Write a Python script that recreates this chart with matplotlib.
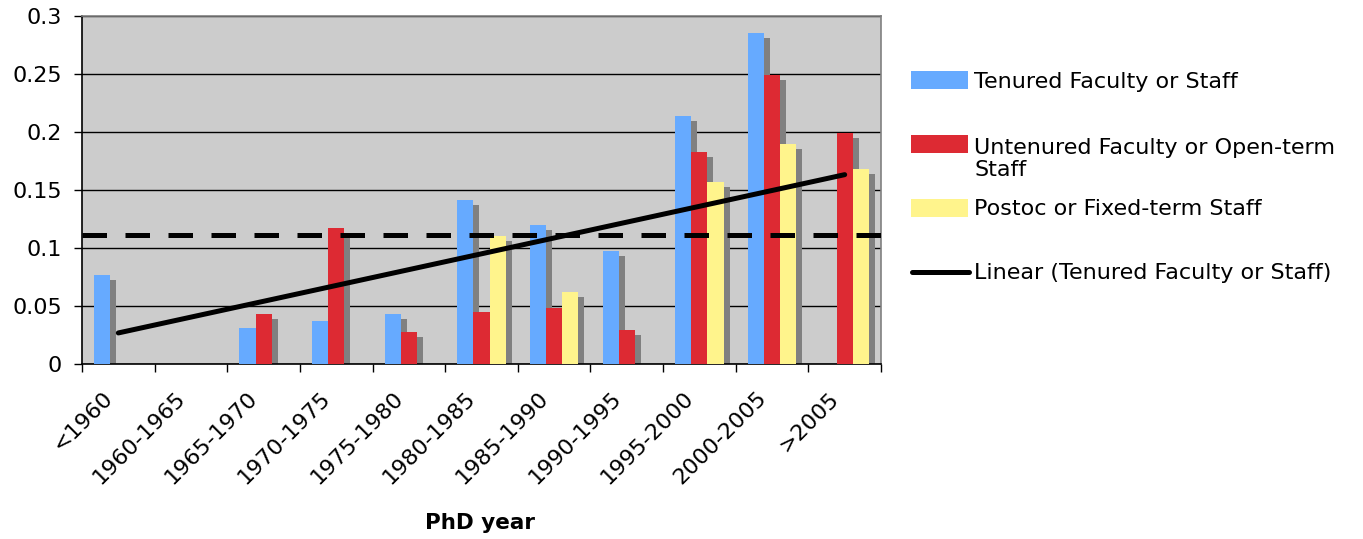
import matplotlib
matplotlib.use("Agg")

import matplotlib.pyplot as plt
import numpy as np
from matplotlib.patches import Rectangle
from matplotlib.lines import Line2D
from matplotlib.transforms import offset_copy, blended_transform_factory

# categories on the x axis
categories = ["<1960", "1960-1965", "1965-1970", "1970-1975", "1975-1980",
              "1980-1985", "1985-1990", "1990-1995", "1995-2000", "2000-2005", ">2005"]

# fractions per series
tenured = [0.077, 0, 0.031, 0.037, 0.043, 0.141, 0.120, 0.097, 0.214, 0.285, 0]
untenured = [0, 0, 0.043, 0.117, 0.028, 0.045, 0.048, 0.029, 0.183, 0.249, 0.199]
postdoc = [0, 0, 0, 0, 0, 0.110, 0.062, 0, 0.157, 0.190, 0.168]
reference_level = 0.1115

series_labels = ["Tenured Faculty or Staff",
                 "Untenured Faculty or Open-term\nStaff",
                 "Postoc or Fixed-term Staff"]
trend_label = "Linear (Tenured Faculty or Staff)"
y_ticks = [0, 0.05, 0.1, 0.15, 0.2, 0.25, 0.3]
y_tick_labels = ["0", "0.05", "0.1", "0.15", "0.2", "0.25", "0.3"]

colors = ["#66AAFF", "#DD2A33", "#FFF48C"]
shadow_color = "#808080"

W, H = 1363, 539


def fig_xy(px, py):
    # pixel position (from top-left) to figure fraction
    return px / W, 1 - py / H


def main():
    fig = plt.figure(figsize=(W / 100, H / 100), dpi=100)
    ax = fig.add_axes([82 / W, 1 - 364 / H, (881 - 82) / W, (364 - 16) / H])
    ax.set_facecolor("#CCCCCC")

    x = np.arange(len(categories))
    width = 1 / 4.5
    shadow_tr = offset_copy(ax.transData, fig=fig, x=6, y=-5, units="dots")

    for i, (vals, color) in enumerate(zip([tenured, untenured, postdoc], colors)):
        pos = x + (i - 1) * width
        shadows = ax.bar(pos, vals, width, color=shadow_color, linewidth=0, zorder=2)
        for s in shadows:
            s.set_transform(shadow_tr)
        ax.bar(pos, vals, width, color=color, linewidth=0, zorder=3)

    # horizontal dashed reference line
    ax.axhline(reference_level, color="black", lw=3.6, dashes=(4.9, 3.7), zorder=4)

    # linear trend of the tenured series
    coef = np.polyfit(x, tenured, 1)
    ends = np.array([x[0], x[-1]])
    ax.plot(ends, np.polyval(coef, ends), color="black", lw=3.6,
            solid_capstyle="round", zorder=5)

    ax.set_xlim(-0.5, len(categories) - 0.5)
    ax.set_ylim(0, 0.3)
    ax.set_yticks(y_ticks)
    ax.set_yticklabels(y_tick_labels, fontsize=16)
    ax.set_xticks(np.arange(-0.5, len(categories), 1))
    ax.set_xticklabels([])
    ax.tick_params(axis="both", direction="out", length=5.8, width=1, color="black")
    ax.tick_params(axis="y", pad=8.5)
    ax.yaxis.grid(True, color="black", lw=1)
    ax.set_axisbelow(True)

    for side in ["left", "bottom"]:
        ax.spines[side].set_color("black")
        ax.spines[side].set_linewidth(1.2)
    for side in ["top", "right"]:
        ax.spines[side].set_color("#808080")
        ax.spines[side].set_linewidth(1.2)

    # rotated category labels
    base = blended_transform_factory(ax.transData, ax.transAxes)
    label_tr = offset_copy(base, fig=fig, x=-9, y=-31, units="dots")
    for i, c in enumerate(categories):
        ax.text(i, 0, c, transform=label_tr, rotation=45, ha="right", va="center",
                rotation_mode="anchor", fontsize=16)

    fx, fy = fig_xy(480, 523)
    fig.text(fx, fy, "PhD year", ha="center", va="center", fontsize=15.5, fontweight="bold")

    # legend drawn by hand to match the layout
    patch_rows = [80, 144, 208]
    text_rows = [82, 159, 209]
    for color, label, py, ty in zip(colors, series_labels, patch_rows, text_rows):
        px0, py0 = fig_xy(911, py + 9)
        fig.add_artist(Rectangle((px0, py0), 57 / W, 18 / H, transform=fig.transFigure,
                                 color=color, linewidth=0))
        tx, tyf = fig_xy(974, ty)
        fig.text(tx, tyf, label, va="center", ha="left", fontsize=16, linespacing=1.15)

    lx0, ly = fig_xy(912, 272)
    lx1, _ = fig_xy(969, 272)
    fig.add_artist(Line2D([lx0, lx1], [ly, ly], transform=fig.transFigure,
                          color="black", lw=3.6, solid_capstyle="round"))
    tx, tyf = fig_xy(974, 273)
    fig.text(tx, tyf, trend_label, va="center", ha="left", fontsize=16)

    fig.savefig("out.png", dpi=100)


if __name__ == "__main__":
    main()
